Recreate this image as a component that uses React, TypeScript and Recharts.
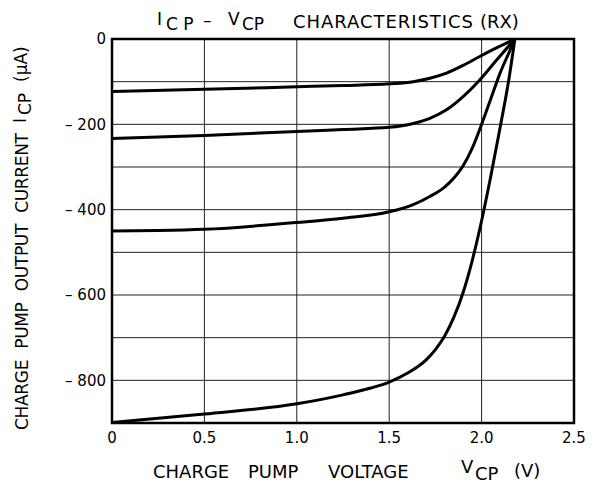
import { LineChart, Line, XAxis, YAxis, CartesianGrid, ReferenceArea } from 'recharts'

// Icp vs Vcp, four curves meeting at ~2.18 V
const curve1V = [0, 0.5, 1.0, 1.25, 1.5, 1.63, 1.72, 1.81, 1.9, 1.99, 2.08, 2.18]
const curve1I = [-123, -118, -112, -109, -105, -100, -92, -80, -62, -41, -21, 0]

const curve2V = [0, 0.5, 1.0, 1.25, 1.5, 1.63, 1.72, 1.81, 1.9, 1.99, 2.08, 2.18]
const curve2I = [-233, -226, -217, -212, -207, -198, -186, -166, -135, -96, -50, 0]

const curve3V = [0, 0.25, 0.5, 1.0, 1.25, 1.5, 1.63, 1.72, 1.8, 1.85, 1.9, 1.95, 2.0, 2.05, 2.1, 2.15, 2.18]
const curve3I = [-450, -449, -446, -430, -420, -405, -388, -369, -347, -326, -297, -255, -200, -140, -80, -30, 0]

const curve4V = [0, 0.5, 1.0, 1.25, 1.4, 1.5, 1.6, 1.7, 1.75, 1.8, 1.85, 1.9, 1.95, 2.0, 2.05, 2.1, 2.15, 2.18]
const curve4I = [-899, -879, -855, -834, -818, -804, -783, -752, -728, -696, -652, -594, -518, -426, -321, -208, -88, 0]

const xTicks = [0, 0.5, 1.0, 1.5, 2.0, 2.5]
const xTickLabels = ['0', '0.5', '1.0', '1.5', '2.0', '2.5']
const yTicks = [0, -100, -200, -300, -400, -500, -600, -700, -800, -900]
const yTickLabels = ['0', '', '– 200', '', '– 400', '', '– 600', '', '– 800', '']

const toRows = (vs: number[], is: number[]) => vs.map((v, i) => ({ v, i: is[i] }))

const series = [
  toRows(curve1V, curve1I),
  toRows(curve2V, curve2I),
  toRows(curve3V, curve3I),
  toRows(curve4V, curve4I),
]

const FONT = '"DejaVu Sans", sans-serif'

export default function App() {
  return (
    <div style={{ position: 'absolute', left: 0, top: 0, width: 595, height: 486, background: '#fff', fontFamily: FONT }}>
      <LineChart width={595} height={486} margin={{ top: 39, right: 21, bottom: 33, left: 52 }}>
        <CartesianGrid stroke="#222" strokeWidth={1} />
        <XAxis
          type="number"
          dataKey="v"
          domain={[0, 2.5]}
          ticks={xTicks}
          tickFormatter={(_: number, idx: number) => xTickLabels[idx]}
          axisLine={false}
          tickLine={false}
          tickSize={0}
          tickMargin={9}
          height={30}
          tick={{ fill: '#000', fontSize: 15, fontFamily: FONT }}
          allowDuplicatedCategory={false}
        />
        <YAxis
          type="number"
          domain={[-900, 0]}
          ticks={yTicks}
          tickFormatter={(_: number, idx: number) => yTickLabels[idx]}
          axisLine={false}
          tickLine={false}
          tickSize={0}
          tickMargin={6}
          width={60}
          tick={{ fill: '#000', fontSize: 15, fontFamily: FONT }}
        />
        <ReferenceArea x1={0} x2={2.5} y1={-900} y2={0} fill="none" stroke="#000" strokeWidth={2.5} ifOverflow="visible" />
        {series.map((rows, k) => (
          <Line
            key={k}
            data={rows}
            dataKey="i"
            type="monotone"
            stroke="#000"
            strokeWidth={3}
            dot={false}
            isAnimationActive={false}
          />
        ))}
      </LineChart>

      <svg width={595} height={486} style={{ position: 'absolute', left: 0, top: 0, pointerEvents: 'none' }}>
        <g fill="#000" fontFamily={FONT} fontSize={17}>
          {/* title */}
          <text x={157} y={25}>I</text>
          <text x={166} y={30}>C P</text>
          <text x={203} y={26}>–</text>
          <text x={228} y={25}>V</text>
          <text x={242} y={30}>CP</text>
          <text x={293} y={28} fontSize={18} textLength={180} lengthAdjust="spacing">CHARACTERISTICS</text>
          <text x={480} y={28} fontSize={18}>(RX)</text>

          {/* x axis label */}
          <g fontSize={18}>
            <text x={153} y={478}>CHARGE</text>
            <text x={248} y={478}>PUMP</text>
            <text x={328} y={478}>VOLTAGE</text>
            <text x={461} y={473}>V</text>
            <text x={475} y={480}>CP</text>
            <text x={514} y={477}>(V)</text>
          </g>

          {/* y axis label */}
          <g transform="rotate(-90)" fontSize={17}>
            <text x={-430} y={28} wordSpacing={6} textLength={297} lengthAdjust="spacing">CHARGE PUMP OUTPUT CURRENT</text>
            <text x={-123} y={26}>I</text>
            <text x={-115} y={31}>CP</text>
            <text x={-82} y={27}>(μA)</text>
          </g>
        </g>
      </svg>
    </div>
  )
}
